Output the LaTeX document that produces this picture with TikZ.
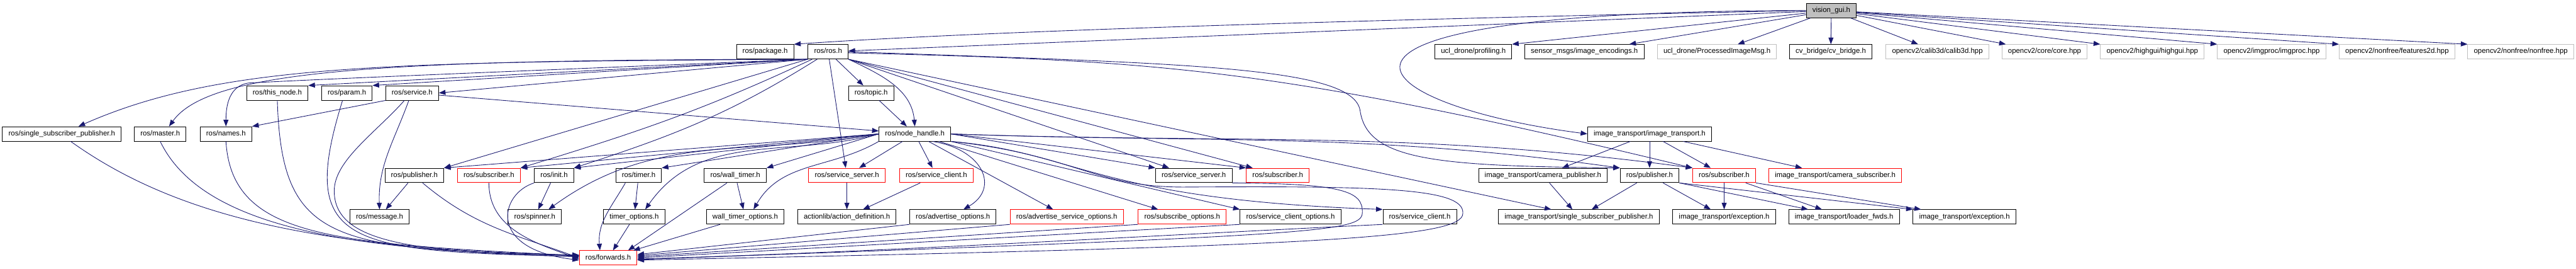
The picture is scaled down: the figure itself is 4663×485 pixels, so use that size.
\documentclass[tikz,border=0pt]{standalone}
\usepackage{fontspec}
\setmainfont{Liberation Sans}
\usetikzlibrary{arrows.meta}
\definecolor{edgeblue}{HTML}{191970}
\definecolor{boxgray}{HTML}{BFBFBF}
\tikzset{
	filenode/.style={
			shape=rectangle,
			draw=black,
			fill=white,
			line width=1.1pt,
			minimum height=26pt,
			inner xsep=11pt,
			text height=9.5pt,
			text depth=3pt,
			font=\fontsize{13}{15}\selectfont
		},
	truncnode/.style={
			filenode,
			draw=red
		},
	extnode/.style={
			filenode,
			draw=boxgray
		},
	rootnode/.style={
			filenode,
			fill=boxgray
		}
}
\tikzset{
	incl/.style={draw=edgeblue, line width=1pt, -{Triangle[length=12pt,width=9pt]}}
}
\begin{document}
\begin{tikzpicture}[x=1pt, y=1pt]

              \useasboundingbox (0,0) rectangle (4663,-485);

              \node[rootnode] (vgui) at (3315,-19) {vision\_gui.h};

              \node[filenode] (pkg) at (1385,-93.5) {ros/package.h};
              \node[filenode] (ros) at (1499,-93.5) {ros/ros.h};
              \node[filenode] (prof) at (2667,-93.5) {ucl\_drone/profiling.h};
              \node[filenode] (enc) at (2868,-93.5) {sensor\_msgs/image\_encodings.h};
              \node[extnode] (pimg) at (3108,-93.5) {ucl\_drone/ProcessedImageMsg.h};
              \node[filenode] (cvb) at (3314,-93.5) {cv\_bridge/cv\_bridge.h};
              \node[extnode] (calib) at (3507,-93.5) {opencv2/calib3d/calib3d.hpp};
              \node[extnode] (core) at (3701,-93.5) {opencv2/core/core.hpp};
              \node[extnode] (hgui) at (3896,-93.5) {opencv2/highgui/highgui.hpp};
              \node[extnode] (imgp) at (4112,-93.5) {opencv2/imgproc/imgproc.hpp};
              \node[extnode] (feat) at (4339,-93.5) {opencv2/nonfree/features2d.hpp};
              \node[extnode] (nonf) at (4563,-93.5) {opencv2/nonfree/nonfree.hpp};

              \node[filenode] (thisn) at (502,-168) {ros/this\_node.h};
              \node[filenode] (param) at (628,-168) {ros/param.h};
              \node[filenode] (serv) at (746,-168) {ros/service.h};
              \node[filenode] (topic) at (1577,-168) {ros/topic.h};

              \node[filenode] (ssp) at (112,-242) {ros/single\_subscriber\_publisher.h};
              \node[filenode] (master) at (290,-242) {ros/master.h};
              \node[filenode] (names) at (409,-242) {ros/names.h};
              \node[filenode] (nh) at (1656,-242) {ros/node\_handle.h};
              \node[filenode] (it) at (2986,-242) {image\_transport/image\_transport.h};

              \node[filenode] (pub1) at (750,-317) {ros/publisher.h};
              \node[truncnode] (sub1) at (885,-317) {ros/subscriber.h};
              \node[filenode] (init) at (1003,-317) {ros/init.h};
              \node[filenode] (timer) at (1156,-317) {ros/timer.h};
              \node[filenode] (wtimer) at (1331,-317) {ros/wall\_timer.h};
              \node[truncnode] (ssrv1) at (1533,-317) {ros/service\_server.h};
              \node[truncnode] (scli1) at (1695,-317) {ros/service\_client.h};
              \node[filenode] (ssrv2) at (2161,-317) {ros/service\_server.h};
              \node[truncnode] (sub2) at (2313,-317) {ros/subscriber.h};
              \node[filenode] (campub) at (2793,-317) {image\_transport/camera\_publisher.h};
              \node[filenode] (pub2) at (2986,-317) {ros/publisher.h};
              \node[truncnode] (sub3) at (3121,-317) {ros/subscriber.h};
              \node[truncnode] (camsub) at (3322,-317) {image\_transport/camera\_subscriber.h};

              \node[filenode] (msg) at (687,-392) {ros/message.h};
              \node[filenode] (spin) at (968,-392) {ros/spinner.h};
              \node[filenode] (topt) at (1148,-392) {timer\_options.h};
              \node[filenode] (wtopt) at (1349,-392) {wall\_timer\_options.h};
              \node[filenode] (actdef) at (1533,-392) {actionlib/action\_definition.h};
              \node[filenode] (advopt) at (1725,-392) {ros/advertise\_options.h};
              \node[truncnode] (advsopt) at (1931,-392) {ros/advertise\_service\_options.h};
              \node[truncnode] (subopt) at (2140,-392) {ros/subscribe\_options.h};
              \node[filenode] (scopt) at (2336,-392) {ros/service\_client\_options.h};
              \node[filenode] (scli2) at (2570,-392) {ros/service\_client.h};
              \node[filenode] (itssp) at (2858,-392) {image\_transport/single\_subscriber\_publisher.h};
              \node[filenode] (exc1) at (3121,-392) {image\_transport/exception.h};
              \node[filenode] (ldr) at (3338,-392) {image\_transport/loader\_fwds.h};
              \node[filenode] (exc2) at (3556,-392) {image\_transport/exception.h};

              \node[truncnode] (fwd) at (1101,-466) {ros/forwards.h};

              \draw[incl] (vgui.west) .. controls (2500,-35) and (1800,-55) .. (pkg.north east);
              \draw[incl] (vgui) -- (ros);
              \draw[incl] (vgui) -- (prof.north east);
              \draw[incl] (vgui) -- (enc);
              \draw[incl] (vgui) -- (pimg);
              \draw[incl] (vgui) -- (cvb);
              \draw[incl] (vgui) -- (calib);
              \draw[incl] (vgui) -- (core);
              \draw[incl] (vgui) -- (hgui.north west);
              \draw[incl] (vgui) -- (imgp.north west);
              \draw[incl] (vgui) -- (feat.north west);
              \draw[incl] (vgui) -- (nonf.north west);
              \draw[incl] (vgui.west) .. controls (2250,-20) and (2470,-190) .. (it.west);

              \draw[incl] (ros.south west) .. controls (700,-112) and (400,-115) .. ([xshift=30]ssp.north);
              \draw[incl] (ros.south west) .. controls (700,-108) and (380,-125) .. ([xshift=16]master.north);
              \draw[incl] (ros.south west) .. controls (900,-130) and (600,-142) .. (450,-150) .. controls (415,-155) and (409,-190) .. (names.north);
              \draw[incl] (ros.south west) -- (thisn.north east);
              \draw[incl] (ros.south west) -- (param.north east);
              \draw[incl] (ros.south west) -- (serv.east);
              \draw[incl] (ros) -- (topic);
              \draw[incl] (ros.south east) to[out=-25, in=95] (nh.north);
              \draw[incl] (ros.south west) -- (pub1.north east);
              \draw[incl] ([xshift=8]ros.south west) to[out=205, in=17] (sub1.north east);
              \draw[incl] ([xshift=17]ros.south west) to[out=212, in=18] (init.north east);
              \draw[incl] (ros) -- (ssrv1);
              \draw[incl] (ros.south east) -- ([xshift=25]ssrv2.north west);
              \draw[incl] (ros.south east) -- ([xshift=12]sub2.north west);
              \draw[incl] (ros.south east) -- ([xshift=-50]itssp.north);
              \draw[incl] (ros.east) .. controls (2150,-115) and (2450,-120) .. (2462,-200) .. controls (2475,-290) and (2600,-300) .. (pub2.north west);
              \draw[incl] ([yshift=-2]ros.east) .. controls (2100,-110) and (2300,-120) .. (sub3.north west);

              \draw[incl] (serv.south west) -- (names.north east);
              \draw[incl] (serv) -- (nh);
              \draw[incl] ([xshift=-6]serv.south) to[out=-110, in=92] (msg.north);
              \draw[incl] ([xshift=-14]serv.south) .. controls (680,-240) and (605,-290) .. (605,-345) .. controls (605,-440) and (750,-455) .. ([yshift=2]fwd.west);
              \draw[incl] (topic) -- (nh);

              \draw[incl] (nh.west) -- (pub1.north east);
              \draw[incl] (nh.west) -- (sub1.north east);
              \draw[incl] (nh.west) -- (init.north east);
              \draw[incl] (nh.west) -- (timer.north east);
              \draw[incl] (nh.west) -- (wtimer.north east);
              \draw[incl] (nh.west) to[out=190, in=36] ([xshift=25]spin.north);
              \draw[incl] (nh.west) to[out=195, in=55] ([xshift=20]topt.north);
              \draw[incl] (nh.south west) to[out=210, in=60] ([xshift=15]wtopt.north);
              \draw[incl] (nh) -- (ssrv1);
              \draw[incl] (nh) -- (scli1);
              \draw[incl] (nh.east) -- (ssrv2.north west);
              \draw[incl] (nh.east) -- (sub2.north west);
              \draw[incl] (nh.east) .. controls (2196,-259) and (2457,-238) .. (pub2.north west);
              \draw[incl] (nh.east) .. controls (2247,-260) and (2550,-235) .. (sub3.north west);
              \draw[incl] ([xshift=32]nh.south) .. controls (1780,-270) and (1810,-340) .. ([xshift=19]advopt.north);
              \draw[incl] (nh) -- (advsopt);
              \draw[incl] (nh) -- (subopt);
              \draw[incl] (nh.south east) -- (scopt.north west);
              \draw[incl] (nh.south east) .. controls (1950,-275) and (1980,-360) .. (scli2.north west);
              \draw[incl] (nh.south east) .. controls (1950,-280) and (1980,-340) .. (2150,-338) .. controls (2500,-336) and (2650,-340) .. (2648,-385) .. controls (2650,-430) and (2400,-445) .. ([yshift=-4]fwd.east);

              \draw[incl] ([xshift=16]ssp.south) .. controls (330,-400) and (600,-450) .. ([yshift=5]fwd.west);
              \draw[incl] (master.south) .. controls (360,-400) and (600,-455) .. ([yshift=5]fwd.west);
              \draw[incl] (names.south) .. controls (420,-430) and (600,-440) .. ([yshift=4]fwd.west);
              \draw[incl] (thisn.south) .. controls (510,-440) and (600,-450) .. ([yshift=4]fwd.west);
              \draw[incl] ([xshift=-8]param.south) .. controls (540,-440) and (620,-455) .. ([yshift=3]fwd.west);

              \draw[incl] (pub1) -- (msg);
              \draw[incl] ([xshift=15]pub1.south) to[out=-40, in=160] (fwd.west);
              \draw[incl] (sub1.south) to[out=-90, in=160] ([yshift=-2]fwd.west);
              \draw[incl] (init.south west) .. controls (905,-350) and (880,-450) .. ([yshift=-4]fwd.west);
              \draw[incl] (init) -- (spin);
              \draw[incl] (timer) -- (topt);
              \draw[incl] ([xshift=-24]timer.south) to[out=-120, in=95] ([xshift=-15]fwd.north);
              \draw[incl] (topt) -- (fwd);
              \draw[incl] (wtimer) -- (wtopt);
              \draw[incl] ([xshift=-15]wtimer.south) -- ([xshift=36]fwd.north);
              \draw[incl] (wtopt) -- (fwd);
              \draw[incl] (ssrv1) -- (actdef);
              \draw[incl] (scli1) -- (actdef);
              \draw[incl] (ssrv2.south east) .. controls (2430,-332) and (2468,-345) .. (2466,-385) .. controls (2464,-420) and (2380,-425) .. ([yshift=-3]fwd.east);

              \draw[incl] (advopt.south west) -- ([yshift=6]fwd.east);
              \draw[incl] (advsopt.south west) -- ([yshift=4]fwd.east);
              \draw[incl] (subopt.south west) -- ([yshift=2]fwd.east);
              \draw[incl] (scopt.south west) -- (fwd.east);
              \draw[incl] (scli2.south west) .. controls (2000,-430) and (1600,-455) .. ([yshift=-2]fwd.east);

              \draw[incl] (it) -- (campub);
              \draw[incl] (it) -- (pub2);
              \draw[incl] (it) -- (sub3);
              \draw[incl] (it) -- ([xshift=-60]camsub.north);
              \draw[incl] (campub) -- (itssp);
              \draw[incl] (pub2) -- (itssp);
              \draw[incl] (pub2) -- (exc1);
              \draw[incl] (pub2.south east) -- ([xshift=-65]ldr.north);
              \draw[incl] (pub2.south east) -- (exc2.north west);
              \draw[incl] (sub3) -- (exc1);
              \draw[incl] (sub3) -- ([xshift=-40]ldr.north);
              \draw[incl] (sub3.south east) -- ([xshift=15]exc2.north west);

            \end{tikzpicture}
\end{document}
